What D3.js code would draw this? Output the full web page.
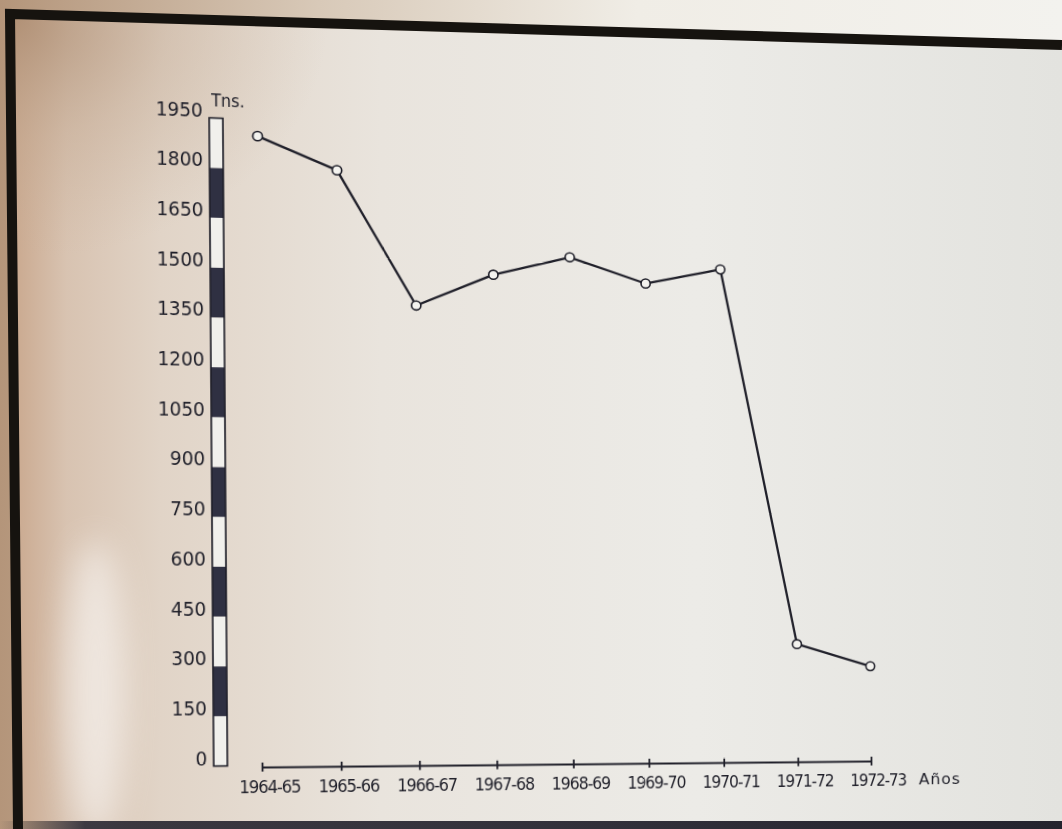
<!DOCTYPE html>
<html>
<head>
<meta charset="utf-8">
<script src="https://cdn.jsdelivr.net/npm/d3@7/dist/d3.min.js"></script>
<style>
  html, body { margin: 0; padding: 0; background: #b89a7f; overflow: hidden; }
  #stage { position: relative; width: 1062px; height: 829px; }
  #stage > div { position: absolute; left: 0; top: 0; width: 1062px; height: 829px; }
  svg { display: block; }
</style>
</head>
<body>
<div id="stage">
  <div id="mount"></div>
  <div id="sheet"></div>
</div>
<script>
// Producción anual (toneladas) por campaña
const campaigns = ["1964-65", "1965-66", "1966-67", "1967-68", "1968-69",
                   "1969-70", "1970-71", "1971-72", "1972-73"];
const tonnes = [1900, 1805, 1400, 1500, 1560, 1485, 1535, 365, 295];
const yTicks = [0, 150, 300, 450, 600, 750, 900, 1050, 1200, 1350, 1500, 1650, 1800, 1950];
const yUnit = "Tns.";
const xUnit = "Años";

const W = 1062, H = 829;

// ---------- mount, paper and frame ----------
const bg = d3.select("#mount").append("svg").attr("width", W).attr("height", H);
const defs = bg.append("defs");

const paperGrad = defs.append("linearGradient").attr("id", "paper")
  .attr("x1", 0).attr("x2", 1).attr("y1", 0).attr("y2", 0);
[[0, "#caa98f"], [0.05, "#d8c3b1"], [0.14, "#e1d4c7"], [0.35, "#e9e4dd"],
 [0.65, "#ecebe7"], [1, "#e3e3df"]].forEach(([o, c]) =>
  paperGrad.append("stop").attr("offset", o).attr("stop-color", c));

const outerGrad = defs.append("linearGradient").attr("id", "outer")
  .attr("x1", 0).attr("x2", 1).attr("y1", 0).attr("y2", 0);
[[0, "#b4957a"], [0.3, "#d8c9b8"], [0.6, "#f0ede6"], [1, "#f3f2ee"]].forEach(([o, c]) =>
  outerGrad.append("stop").attr("offset", o).attr("stop-color", c));

const cornerShade = defs.append("radialGradient").attr("id", "corner")
  .attr("cx", 0.0).attr("cy", 0.0).attr("r", 0.3);
[[0, "#ab8b70", 0.8], [0.5, "#bda28a", 0.35], [1, "#c8b09a", 0]].forEach(([o, c, a]) =>
  cornerShade.append("stop").attr("offset", o).attr("stop-color", c).attr("stop-opacity", a));

const bottomGrad = defs.append("linearGradient").attr("id", "bottomBand")
  .attr("x1", 0).attr("x2", 1).attr("y1", 0).attr("y2", 0);
[[0, "#2c2b36", 0], [0.08, "#2c2b36", 0.9], [1, "#24232e", 1]].forEach(([o, c, a]) =>
  bottomGrad.append("stop").attr("offset", o).attr("stop-color", c).attr("stop-opacity", a));

defs.append("filter").attr("id", "glare").attr("x", "-100%").attr("y", "-100%")
  .attr("width", "300%").attr("height", "300%")
  .append("feGaussianBlur").attr("stdDeviation", 16);

bg.append("rect").attr("width", W).attr("height", H).attr("fill", "url(#outer)");

const paperPts = [[14, 19], [W, 50], [W, 821], [21, 821]];
bg.append("polygon").attr("points", paperPts.map(p => p.join(",")).join(" "))
  .attr("fill", "url(#paper)");
bg.append("polygon").attr("points", paperPts.map(p => p.join(",")).join(" "))
  .attr("fill", "url(#corner)");

// soft glare on the lower left of the sheet
bg.append("ellipse").attr("cx", 95).attr("cy", 690).attr("rx", 30).attr("ry", 150)
  .attr("fill", "#ffffff").attr("opacity", 0.55).attr("filter", "url(#glare)");

bg.append("rect").attr("x", 0).attr("y", 821).attr("width", W).attr("height", 8)
  .attr("fill", "url(#bottomBand)");
bg.append("path")
  .attr("d", `M ${W},45 L 10,14 L 18,829`)
  .attr("fill", "none").attr("stroke", "#16130f")
  .attr("stroke-width", 10).attr("stroke-linejoin", "miter");

// ---------- the chart, drawn flat then seen at a slight angle ----------
const ox = 262, oy = 768;           // projection anchor (start of the x axis)
const pg = 7.5e-5;                  // horizontal foreshortening
const pa = 1 + 609 * pg;
const pd = -6 * pa / 609;
const pb = 0.007;
d3.select("#sheet")
  .style("transform-origin", `${ox}px ${oy}px`)
  .style("transform", `matrix3d(${pa},${pd},0,${pg}, ${pb},1,0,0, 0,0,1,0, 0,0,0,1)`);

const svg = d3.select("#sheet").append("svg").attr("width", W).attr("height", H);
const g = svg.append("g");

const ink = "#1f1f29";

const y = d3.scaleLinear().domain([0, 1950]).range([765.6, 119.6]);
const x = d3.scalePoint().domain(campaigns).range([262, 871]);

// Scale bar with alternating bands
const barX = 216, barW = 13;
const bands = d3.pairs(yTicks).map(([a, b], i) => ({ a, b, dark: i % 2 === 1 }));
g.selectAll("rect.band").data(bands).join("rect")
  .attr("class", "band")
  .attr("x", barX).attr("width", barW)
  .attr("y", d => y(d.b)).attr("height", d => y(d.a) - y(d.b))
  .attr("fill", d => d.dark ? "#2f3042" : "#f1f0ec");
g.append("rect")
  .attr("x", barX).attr("width", barW)
  .attr("y", y(1950)).attr("height", y(0) - y(1950))
  .attr("fill", "none").attr("stroke", ink).attr("stroke-width", 1.6);

// Y labels
g.selectAll("text.ylab").data(yTicks).join("text")
  .attr("class", "ylab")
  .attr("x", 210).attr("y", d => y(d))
  .attr("dy", -1)
  .attr("text-anchor", "end")
  .attr("font-family", "'DejaVu Sans Condensed', 'DejaVu Sans', sans-serif")
  .attr("font-size", 19.5)
  .attr("fill", ink)
  .text(d => d);

g.append("text")
  .attr("x", barX + 2).attr("y", y(1950) - 12)
  .attr("font-family", "'DejaVu Sans Condensed', 'DejaVu Sans', sans-serif")
  .attr("font-size", 17)
  .attr("fill", ink)
  .text(yUnit);

// X axis
const xAxis = d3.axisBottom(x).tickSize(0).tickPadding(0);
const axG = g.append("g").attr("transform", `translate(0,${y(0) + 2})`).call(xAxis);
axG.select(".domain").remove();
axG.append("line")
  .attr("x1", x(campaigns[0])).attr("x2", x(campaigns[campaigns.length - 1]))
  .attr("stroke", ink).attr("stroke-width", 2);
axG.selectAll(".tick").append("line")
  .attr("y1", -5).attr("y2", 4)
  .attr("stroke", ink).attr("stroke-width", 1.8);
axG.selectAll(".tick text")
  .attr("y", 25).attr("dy", 0).attr("dx", 7)
  .attr("font-family", "'DejaVu Sans Condensed', 'DejaVu Sans', sans-serif")
  .attr("font-size", 17.5)
  .attr("letter-spacing", -1)
  .attr("fill", ink);

g.append("text")
  .attr("x", x(campaigns[campaigns.length - 1]) + 50).attr("y", y(0) + 2 + 24)
  .attr("font-family", "'DejaVu Sans', sans-serif")
  .attr("font-size", 16.5)
  .attr("letter-spacing", 1)
  .attr("fill", ink)
  .text(xUnit);

// Series line and markers
const line = d3.line().x((d, i) => x(campaigns[i])).y(d => y(d));
g.append("path").datum(tonnes)
  .attr("d", line)
  .attr("fill", "none").attr("stroke", ink)
  .attr("stroke-width", 2.3).attr("stroke-linejoin", "round");

g.selectAll("circle.pt").data(tonnes).join("circle")
  .attr("class", "pt")
  .attr("cx", (d, i) => x(campaigns[i])).attr("cy", d => y(d))
  .attr("r", 4.6)
  .attr("fill", "#f4f3ef").attr("stroke", ink).attr("stroke-width", 1.6);
</script>
</body>
</html>
